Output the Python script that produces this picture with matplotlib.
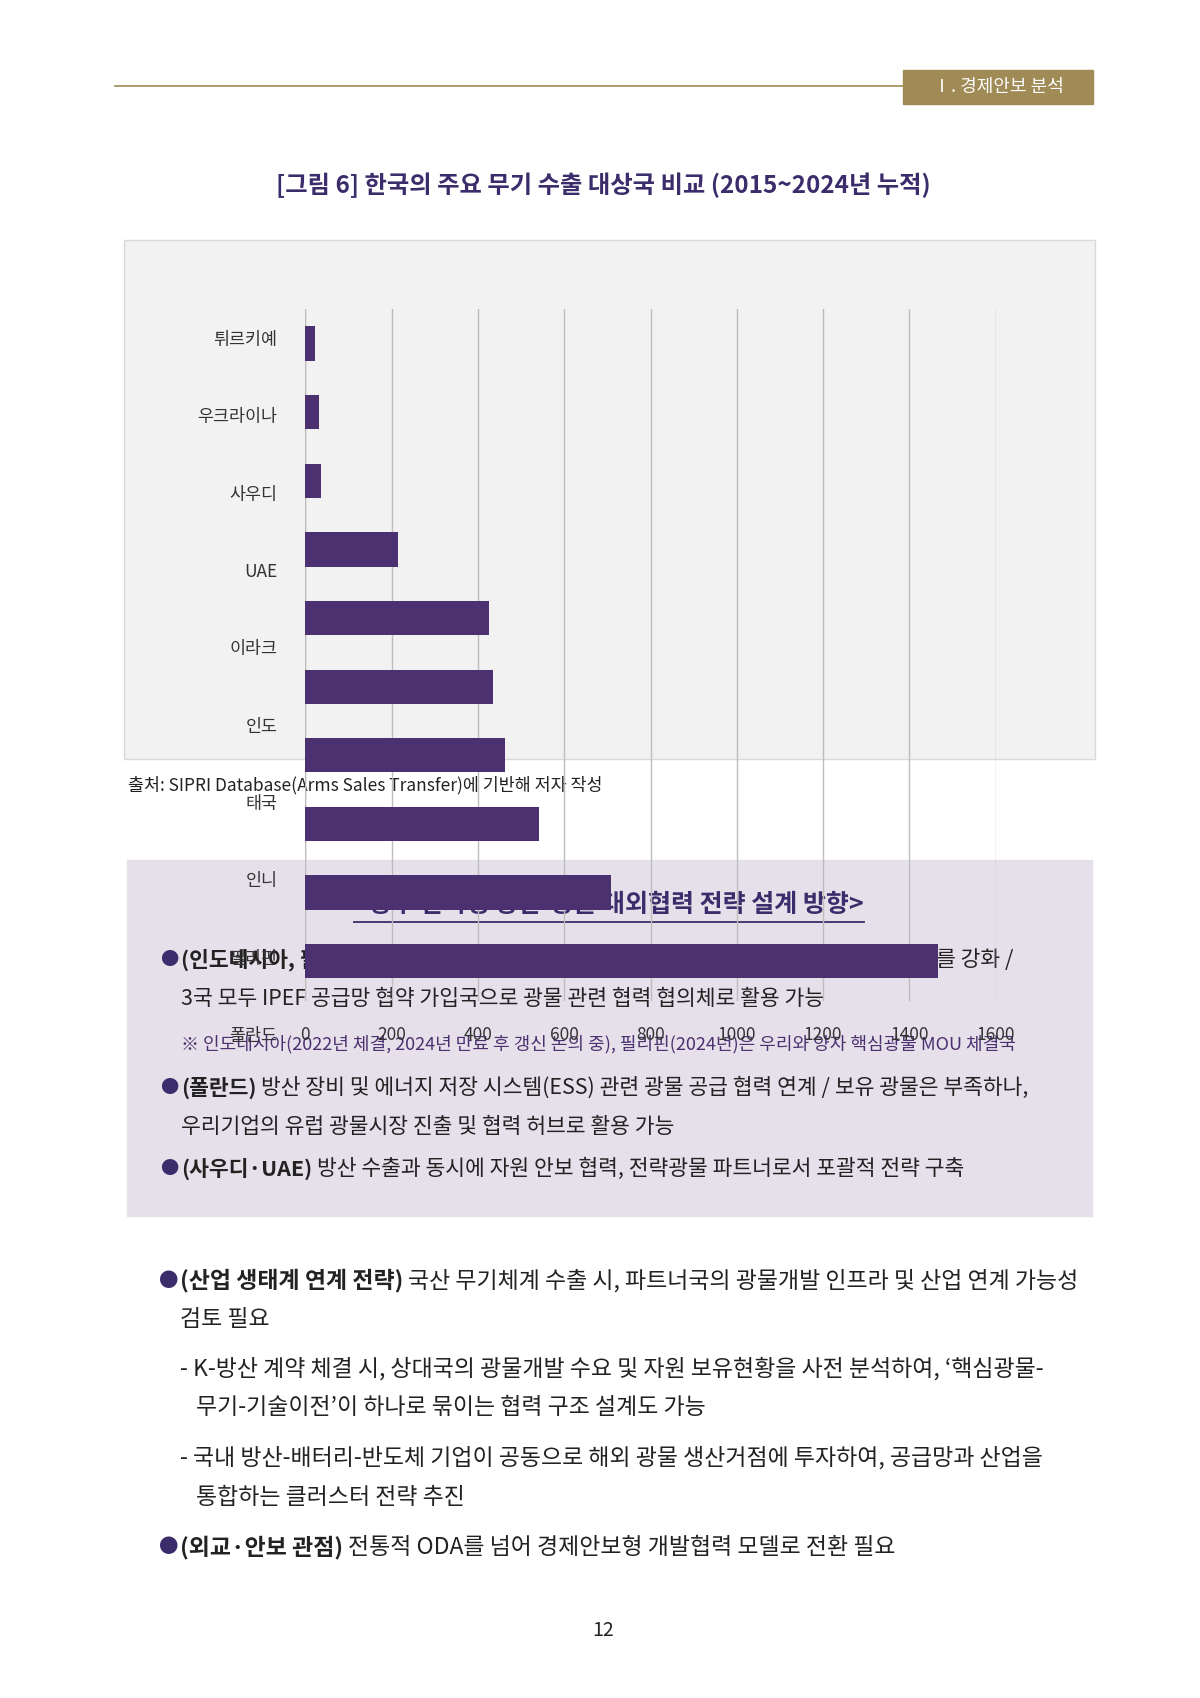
import matplotlib
matplotlib.use("Agg")
import matplotlib.pyplot as plt
from matplotlib.patches import Rectangle
from matplotlib.lines import Line2D

plt.rcParams["font.family"] = ["Noto Sans CJK JP", "Noto Sans CJK KR", "Noto Sans CJK SC", "DejaVu Sans"]

countries = ["튀르키예", "우크라이나", "사우디", "UAE", "이라크", "인도", "태국", "인니", "필리핀", "폴란드"]
values = [23, 31, 36, 216, 425, 436, 464, 541, 709, 1467]
xticks = [0, 200, 400, 600, 800, 1000, 1200, 1400, 1600]

W, H = 1200, 1698
fig = plt.figure(figsize=(12, 16.98), dpi=100)
fig.patch.set_facecolor("white")

def fx(x): return x / W
def fy(y): return 1 - y / H

NAVY = "#3b2d6b"
BAR = "#4b3170"
GOLD = "#a08a55"
TXT = "#222222"

# header
fig.add_artist(Line2D([fx(115), fx(905)], [fy(86), fy(86)], color=GOLD, lw=1.2))
fig.add_artist(Rectangle((fx(903), fy(104)), fx(1093) - fx(903), fy(70) - fy(104), color=GOLD, transform=fig.transFigure))
fig.text(fx(998), fy(87), "Ⅰ. 경제안보 분석", color="white", fontsize=13, ha="center", va="center")

# title
fig.text(fx(603), fy(185), "[그림 6] 한국의 주요 무기 수출 대상국 비교 (2015~2024년 누적)", color=NAVY,
         fontsize=17.5, fontweight="bold", ha="center", va="center")

# chart background
fig.add_artist(Rectangle((fx(124), fy(759)), fx(1095) - fx(124), fy(240) - fy(759), facecolor="#f2f2f2",
                         edgecolor="#d9d9d9", lw=1, transform=fig.transFigure, zorder=-5))

ax = fig.add_axes([fx(305.2), fy(1001), fx(995.8) - fx(305.2), fy(308.6) - fy(1001)])
ax.set_zorder(5)
ax.set_facecolor("none")
n = len(values)
ax.barh(range(n), values, height=0.5, color=BAR, zorder=3)
ax.set_xlim(0, 1600)
ax.set_ylim(9.58, -0.51)
ax.set_xticks(xticks)
ax.set_xticklabels([str(t) for t in xticks])
ax.tick_params(axis="x", length=0, pad=18, labelsize=12.5, labelcolor="#333333")
ax.set_yticks([])
ax.grid(axis="x", color="#bdbdbd", lw=1, zorder=0)
for s in ax.spines.values():
    s.set_visible(False)
ax.axvline(0, color="#bdbdbd", lw=1, zorder=1)
for k, c in enumerate(countries):
    yk = -0.05 + k * 77.3 / 68.6
    ax.text(-0.04, yk, c, transform=ax.get_yaxis_transform(), ha="right", va="center",
            fontsize=12.5, color="#333333", clip_on=False)

# source
fig.text(fx(128), fy(785), "출처: SIPRI Database(Arms Sales Transfer)에 기반해 저자 작성", fontsize=12.5,
         color=TXT, ha="left", va="center")

# purple box
fig.add_artist(Rectangle((fx(127), fy(1216)), fx(1092) - fx(127), fy(860) - fy(1216), color="#e6e0ea",
                         transform=fig.transFigure, zorder=-5))
bt = fig.text(fx(609), fy(905), "<향후 한국형 방산-광물 대외협력 전략 설계 방향>", color=NAVY, fontsize=18,
              fontweight="bold", ha="center", va="center")

fig.canvas.draw()
r = fig.canvas.get_renderer()
bb = bt.get_window_extent(r)
fig.add_artist(Line2D([bb.x0 / W, bb.x1 / W], [fy(922), fy(922)], color=NAVY, lw=1.3))

FS = 15.5

def line(x, y, bold, rest, fs=FS, color=TXT, bullet_x=None):
    if bullet_x is not None:
        fig.text(fx(bullet_x), fy(y), "●", fontsize=fs * 0.85, color=NAVY, ha="left", va="center")
    xx = fx(x)
    if bold:
        t = fig.text(xx, fy(y), bold, fontsize=fs, fontweight="bold", color=TXT, ha="left", va="center")
        e = t.get_window_extent(r)
        xx = e.x1 / W + 0.004
    fig.text(xx, fy(y), rest, fontsize=fs, color=color, ha="left", va="center")

line(181, 960, "(인도네시아, 필리핀, 인도)", "기술이전 중심의 협력에 광물 개발 협력을 묶어 실질적 우호를 강화 /", bullet_x=160)
line(181, 999, None, "3국 모두 IPEF 공급망 협약 가입국으로 광물 관련 협력 협의체로 활용 가능")
line(181, 1044, None, "※ 인도네시아(2022년 체결, 2024년 만료 후 갱신 논의 중), 필리핀(2024년)은 우리와 양자 핵심광물 MOU 체결국",
     fs=13, color="#4b3170")
line(181, 1088, "(폴란드)", "방산 장비 및 에너지 저장 시스템(ESS) 관련 광물 공급 협력 연계 / 보유 광물은 부족하나,", bullet_x=160)
line(181, 1127, None, "우리기업의 유럽 광물시장 진출 및 협력 허브로 활용 가능")
line(181, 1169, "(사우디·UAE)", "방산 수출과 동시에 자원 안보 협력, 전략광물 파트너로서 포괄적 전략 구축", bullet_x=160)

FS2 = 16.5
line(180, 1281, "(산업 생태계 연계 전략)", "국산 무기체계 수출 시, 파트너국의 광물개발 인프라 및 산업 연계 가능성", fs=FS2, bullet_x=158)
line(180, 1319, None, "검토 필요", fs=FS2)
line(180, 1369, None, "- K-방산 계약 체결 시, 상대국의 광물개발 수요 및 자원 보유현황을 사전 분석하여, ‘핵심광물-", fs=FS2)
line(196, 1408, None, "무기-기술이전’이 하나로 묶이는 협력 구조 설계도 가능", fs=FS2)
line(180, 1458, None, "- 국내 방산-배터리-반도체 기업이 공동으로 해외 광물 생산거점에 투자하여, 공급망과 산업을", fs=FS2)
line(196, 1497, None, "통합하는 클러스터 전략 추진", fs=FS2)
line(180, 1547, "(외교·안보 관점)", "전통적 ODA를 넘어 경제안보형 개발협력 모델로 전환 필요", fs=FS2, bullet_x=158)

fig.text(fx(603), fy(1631), "12", fontsize=14, color=TXT, ha="center", va="center")

fig.savefig("out.png", dpi=100)
